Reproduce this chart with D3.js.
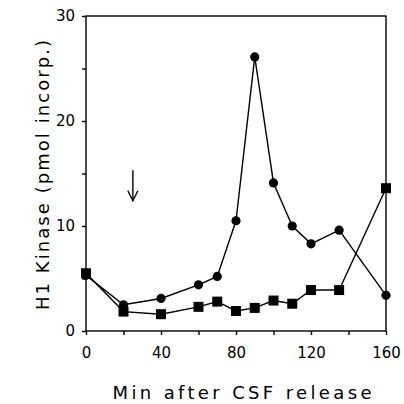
<!DOCTYPE html>
<html><head><meta charset="utf-8">
<script src="https://cdn.jsdelivr.net/npm/d3@7"></script>
<style>html,body{margin:0;padding:0;background:#fff;}</style>
</head><body>
<script>
const minutes = [0, 20, 40, 60, 70, 80, 90, 100, 110, 120, 135, 160];
const circleSeries = [5.3, 2.5, 3.1, 4.4, 5.2, 10.5, 26.1, 14.1, 10.0, 8.3, 9.6, 3.4];
const squareSeries = [5.5, 1.85, 1.6, 2.3, 2.8, 1.9, 2.2, 2.9, 2.6, 3.9, 3.9, 13.6];
const xTickValues = [0, 20, 40, 60, 80, 100, 120, 140, 160];
const xTickLabels = [0, 40, 80, 120, 160];
const yTickValues = [0, 5, 10, 15, 20, 25, 30];
const yTickLabels = [0, 10, 20, 30];
const arrowX = 25, arrowTop = 15.3, arrowBottom = 12.4;
const xTitle = "Min after CSF release";
const yTitle = "H1 Kinase (pmol incorp.)";

const W = 404, H = 404;
const m = {left: 86, right: 18, top: 16, bottom: 73};
const svg = d3.select("body").append("svg").attr("width", W).attr("height", H);
const x = d3.scaleLinear().domain([0, 160]).range([m.left, W - m.right]);
const y = d3.scaleLinear().domain([0, 30]).range([H - m.bottom, m.top]);
const font = "DejaVu Sans, sans-serif";
const sw = 1.4;

// frame
svg.append("rect").attr("x", x(0)).attr("y", y(30)).attr("width", x(160) - x(0)).attr("height", y(0) - y(30))
  .attr("fill", "none").attr("stroke", "#000").attr("stroke-width", sw);

// x ticks
const xa = svg.append("g").attr("transform", `translate(0,${y(0)})`)
  .call(d3.axisBottom(x).tickValues(xTickValues).tickSize(4).tickFormat(d => xTickLabels.includes(d) ? d : ""));
xa.select(".domain").remove();
xa.selectAll("line").attr("stroke-width", sw);
xa.selectAll("text").attr("font-family", font).attr("font-size", 15).attr("dy", "1.3em").attr("fill", "#000");

const ya = svg.append("g").attr("transform", `translate(${x(0)},0)`)
  .call(d3.axisLeft(y).tickValues(yTickValues).tickSize(4).tickFormat(d => yTickLabels.includes(d) ? d : ""));
ya.select(".domain").remove();
ya.selectAll("line").attr("stroke-width", sw);
ya.selectAll("text").attr("font-family", font).attr("font-size", 15).attr("x", -11).attr("fill", "#000");

// titles
svg.append("text").attr("x", 242).attr("y", 399).attr("text-anchor", "middle")
  .attr("font-family", font).attr("font-size", 18).attr("textLength", 259).attr("lengthAdjust", "spacing")
  .text(xTitle);
svg.append("text").attr("transform", "translate(49,175) rotate(-90)").attr("text-anchor", "middle")
  .attr("font-family", font).attr("font-size", 18).attr("textLength", 270).attr("lengthAdjust", "spacing")
  .text(yTitle);

// lines
const line = d3.line().x((d, i) => x(minutes[i])).y(d => y(d));
svg.append("path").datum(circleSeries).attr("d", line).attr("fill", "none").attr("stroke", "#000").attr("stroke-width", sw);
svg.append("path").datum(squareSeries).attr("d", line).attr("fill", "none").attr("stroke", "#000").attr("stroke-width", sw);

svg.selectAll("circle.c").data(circleSeries).join("circle").attr("class", "c")
  .attr("cx", (d, i) => x(minutes[i])).attr("cy", d => y(d)).attr("r", 4.6).attr("fill", "#000");
const s = 10;
svg.selectAll("rect.s").data(squareSeries).join("rect").attr("class", "s")
  .attr("x", (d, i) => x(minutes[i]) - s / 2).attr("y", d => y(d) - s / 2).attr("width", s).attr("height", s).attr("fill", "#000");

// arrow
const ax = x(arrowX), at = y(arrowTop), ab = y(arrowBottom);
svg.append("line").attr("x1", ax).attr("x2", ax).attr("y1", at).attr("y2", ab).attr("stroke", "#000").attr("stroke-width", sw);
svg.append("path").attr("d", `M${ax - 5},${ab - 10} L${ax},${ab} L${ax + 5},${ab - 10}`)
  .attr("fill", "none").attr("stroke", "#000").attr("stroke-width", sw);
</script>
</body></html>
